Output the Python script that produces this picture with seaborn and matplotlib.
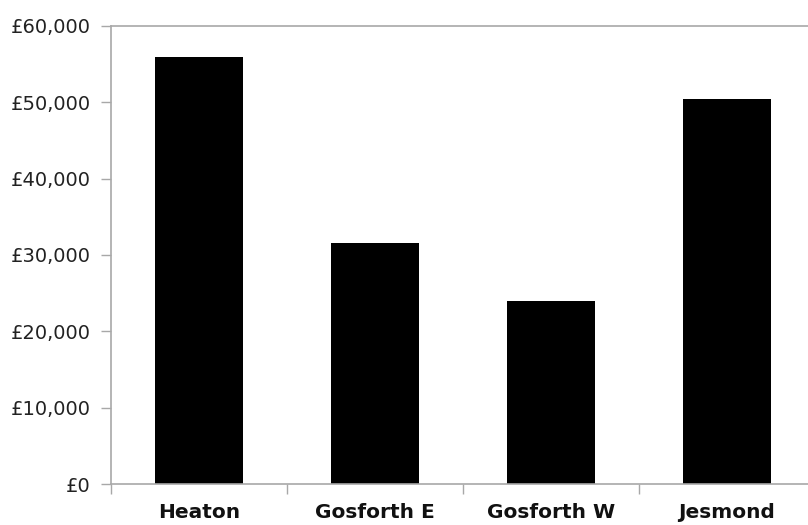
import matplotlib
matplotlib.use("Agg")
import matplotlib.pyplot as plt
from matplotlib.ticker import FuncFormatter, FixedLocator
import seaborn as sns
import pandas as pd

# Ward figures (GBP)
wards = ["Heaton", "Gosforth E", "Gosforth W", "Jesmond"]
amounts = [55900, 31600, 24000, 50400]
y_ticks = [0, 10000, 20000, 30000, 40000, 50000, 60000]

sns.set_theme(style="white")
plt.rcParams["font.family"] = ["DejaVu Sans"]

df = pd.DataFrame({"ward": wards, "amount": amounts})

fig = plt.figure(figsize=(8.08, 5.25), dpi=100)
ax = fig.add_axes([111 / 808, 41 / 525, 704 / 808, 458 / 525])

sns.barplot(data=df, x="ward", y="amount", color="black", width=0.5,
            saturation=1, linewidth=0, ax=ax)

ax.set_ylim(0, 60000)
ax.set_xlim(-0.5, len(wards) - 0.5)
ax.yaxis.set_major_locator(FixedLocator(y_ticks))
ax.yaxis.set_major_formatter(FuncFormatter(lambda v, _: f"£{v:,.0f}"))

ax.set_xlabel("")
ax.set_ylabel("")

spine_col = "#a8a8a8"
for name in ["left", "bottom", "top"]:
    ax.spines[name].set_visible(True)
    ax.spines[name].set_color(spine_col)
    ax.spines[name].set_linewidth(1.2)
ax.spines["right"].set_visible(False)

ax.tick_params(axis="y", which="major", left=True, length=7.5, width=1,
               color=spine_col, pad=7, labelsize=14, labelcolor="#222222")
ax.tick_params(axis="x", which="major", bottom=True, length=0, pad=14,
               labelsize=14.5, labelcolor="#111111")
for lbl in ax.get_xticklabels():
    lbl.set_fontweight("bold")

# category boundary ticks
ax.xaxis.set_minor_locator(FixedLocator([i - 0.5 for i in range(len(wards) + 1)]))
ax.tick_params(axis="x", which="minor", bottom=True, length=7.5, width=1,
               color=spine_col)

fig.savefig("out.png", dpi=100)
